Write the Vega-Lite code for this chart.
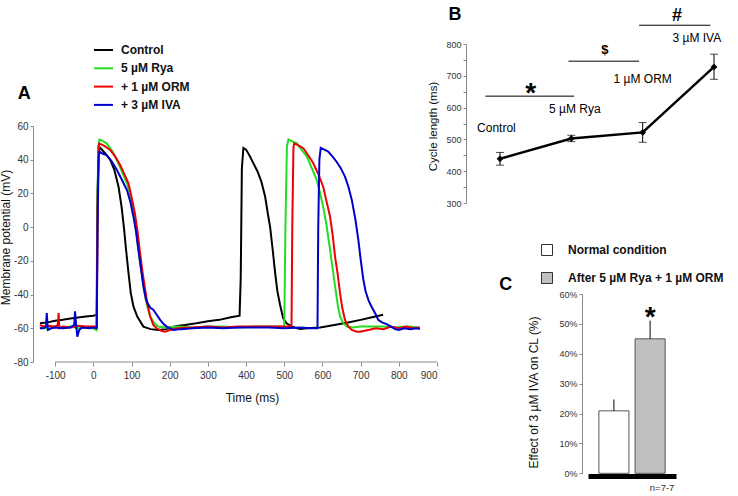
{
  "$schema": "https://vega.github.io/schema/vega-lite/v6.json",
  "width": 738,
  "height": 496,
  "autosize": "none",
  "padding": 0,
  "background": "white",
  "config": {
    "view": {"stroke": null},
    "font": "Liberation Sans",
    "axis": {"grid": false, "domainColor": "#8a8a8a", "tickColor": "#8a8a8a", "labelColor": "#333333", "titleColor": "#111111", "titleFontWeight": "normal", "labelFont": "Liberation Sans", "titleFont": "Liberation Sans"},
    "legend": {"padding": 0, "labelFont": "Liberation Sans", "labelColor": "#111111"}
  },
  "datasets": {
    "one": [{}],
    "traces": [
      {"s":"Control","t":-140,"v":-57},{"s":"Control","t":-120,"v":-56.5},{"s":"Control","t":-100,"v":-55.5},{"s":"Control","t":-80,"v":-55},{"s":"Control","t":-60,"v":-54.2},{"s":"Control","t":-40,"v":-53.6},{"s":"Control","t":-20,"v":-53},{"s":"Control","t":0,"v":-52.5},{"s":"Control","t":9,"v":-52},{"s":"Control","t":11,"v":20},{"s":"Control","t":14,"v":45},{"s":"Control","t":18,"v":47},{"s":"Control","t":30,"v":44},{"s":"Control","t":44,"v":40},{"s":"Control","t":55,"v":34},{"s":"Control","t":66,"v":24},{"s":"Control","t":74,"v":12},{"s":"Control","t":80,"v":0},{"s":"Control","t":86,"v":-14},{"s":"Control","t":92,"v":-27},{"s":"Control","t":98,"v":-39},{"s":"Control","t":105,"v":-47},{"s":"Control","t":115,"v":-53},{"s":"Control","t":131,"v":-59},{"s":"Control","t":150,"v":-60.5},{"s":"Control","t":170,"v":-61},{"s":"Control","t":190,"v":-60.5},{"s":"Control","t":218,"v":-58.6},{"s":"Control","t":240,"v":-58},{"s":"Control","t":270,"v":-57},{"s":"Control","t":300,"v":-55.8},{"s":"Control","t":330,"v":-55},{"s":"Control","t":360,"v":-53.5},{"s":"Control","t":383,"v":-52.5},{"s":"Control","t":386,"v":-30},{"s":"Control","t":389,"v":35},{"s":"Control","t":393,"v":47},{"s":"Control","t":400,"v":46},{"s":"Control","t":410,"v":42},{"s":"Control","t":419,"v":38},{"s":"Control","t":430,"v":33},{"s":"Control","t":440,"v":27},{"s":"Control","t":450,"v":18},{"s":"Control","t":457,"v":8},{"s":"Control","t":463,"v":0},{"s":"Control","t":470,"v":-14},{"s":"Control","t":476,"v":-27},{"s":"Control","t":482,"v":-38},{"s":"Control","t":489,"v":-46},{"s":"Control","t":497,"v":-54},{"s":"Control","t":506,"v":-57},{"s":"Control","t":520,"v":-59},{"s":"Control","t":541,"v":-60.4},{"s":"Control","t":560,"v":-60},{"s":"Control","t":594,"v":-59.5},{"s":"Control","t":620,"v":-58.5},{"s":"Control","t":664,"v":-56.7},{"s":"Control","t":700,"v":-55},{"s":"Control","t":730,"v":-53.5},{"s":"Control","t":759,"v":-52},
      {"s":"5 µM Rya","t":-140,"v":-60},{"s":"5 µM Rya","t":-130,"v":-59},{"s":"5 µM Rya","t":-120,"v":-60.5},{"s":"5 µM Rya","t":-100,"v":-59},{"s":"5 µM Rya","t":-80,"v":-60},{"s":"5 µM Rya","t":-60,"v":-59},{"s":"5 µM Rya","t":-40,"v":-60},{"s":"5 µM Rya","t":-20,"v":-59.5},{"s":"5 µM Rya","t":0,"v":-60},{"s":"5 µM Rya","t":8,"v":-61},{"s":"5 µM Rya","t":10,"v":0},{"s":"5 µM Rya","t":13,"v":48},{"s":"5 µM Rya","t":16,"v":52},{"s":"5 µM Rya","t":25,"v":51},{"s":"5 µM Rya","t":35,"v":49.7},{"s":"5 µM Rya","t":50,"v":45},{"s":"5 µM Rya","t":61,"v":40},{"s":"5 µM Rya","t":75,"v":33},{"s":"5 µM Rya","t":88,"v":26},{"s":"5 µM Rya","t":97,"v":19},{"s":"5 µM Rya","t":105,"v":10},{"s":"5 µM Rya","t":112,"v":-2},{"s":"5 µM Rya","t":118,"v":-13.5},{"s":"5 µM Rya","t":125,"v":-25},{"s":"5 µM Rya","t":131,"v":-35},{"s":"5 µM Rya","t":140,"v":-46},{"s":"5 µM Rya","t":149,"v":-53},{"s":"5 µM Rya","t":160,"v":-57},{"s":"5 µM Rya","t":170,"v":-59},{"s":"5 µM Rya","t":190,"v":-59.5},{"s":"5 µM Rya","t":220,"v":-59},{"s":"5 µM Rya","t":260,"v":-59.5},{"s":"5 µM Rya","t":300,"v":-59},{"s":"5 µM Rya","t":340,"v":-59},{"s":"5 µM Rya","t":380,"v":-59.5},{"s":"5 µM Rya","t":420,"v":-59},{"s":"5 µM Rya","t":460,"v":-59},{"s":"5 µM Rya","t":500,"v":-59},{"s":"5 µM Rya","t":503,"v":0},{"s":"5 µM Rya","t":507,"v":48},{"s":"5 µM Rya","t":511,"v":52},{"s":"5 µM Rya","t":520,"v":51},{"s":"5 µM Rya","t":533,"v":49.7},{"s":"5 µM Rya","t":545,"v":46},{"s":"5 µM Rya","t":559,"v":42},{"s":"5 µM Rya","t":572,"v":35},{"s":"5 µM Rya","t":585,"v":28},{"s":"5 µM Rya","t":594,"v":20},{"s":"5 µM Rya","t":602,"v":12},{"s":"5 µM Rya","t":610,"v":2},{"s":"5 µM Rya","t":620,"v":-13.5},{"s":"5 µM Rya","t":627,"v":-25},{"s":"5 µM Rya","t":633,"v":-35},{"s":"5 µM Rya","t":640,"v":-46},{"s":"5 µM Rya","t":646,"v":-53},{"s":"5 µM Rya","t":655,"v":-57},{"s":"5 µM Rya","t":664,"v":-59},{"s":"5 µM Rya","t":680,"v":-59.5},{"s":"5 µM Rya","t":700,"v":-59},{"s":"5 µM Rya","t":730,"v":-59},{"s":"5 µM Rya","t":760,"v":-59},{"s":"5 µM Rya","t":790,"v":-59.5},{"s":"5 µM Rya","t":820,"v":-59},{"s":"5 µM Rya","t":855,"v":-59.5},
      {"s":"+ 1 µM ORM","t":-140,"v":-58},{"s":"+ 1 µM ORM","t":-130,"v":-59},{"s":"+ 1 µM ORM","t":-120,"v":-58.5},{"s":"+ 1 µM ORM","t":-100,"v":-59},{"s":"+ 1 µM ORM","t":-93,"v":-58},{"s":"+ 1 µM ORM","t":-91,"v":-51},{"s":"+ 1 µM ORM","t":-89,"v":-60},{"s":"+ 1 µM ORM","t":-80,"v":-59},{"s":"+ 1 µM ORM","t":-60,"v":-59.5},{"s":"+ 1 µM ORM","t":-40,"v":-58.5},{"s":"+ 1 µM ORM","t":-20,"v":-59},{"s":"+ 1 µM ORM","t":0,"v":-59},{"s":"+ 1 µM ORM","t":9,"v":-59},{"s":"+ 1 µM ORM","t":11,"v":10},{"s":"+ 1 µM ORM","t":14,"v":48},{"s":"+ 1 µM ORM","t":16,"v":49.7},{"s":"+ 1 µM ORM","t":30,"v":48},{"s":"+ 1 µM ORM","t":44,"v":45.8},{"s":"+ 1 µM ORM","t":57,"v":42},{"s":"+ 1 µM ORM","t":70,"v":37},{"s":"+ 1 µM ORM","t":82,"v":31},{"s":"+ 1 µM ORM","t":92,"v":26},{"s":"+ 1 µM ORM","t":100,"v":18},{"s":"+ 1 µM ORM","t":109,"v":8},{"s":"+ 1 µM ORM","t":116,"v":-3},{"s":"+ 1 µM ORM","t":122.5,"v":-15.5},{"s":"+ 1 µM ORM","t":129,"v":-27},{"s":"+ 1 µM ORM","t":135.6,"v":-37},{"s":"+ 1 µM ORM","t":142,"v":-46},{"s":"+ 1 µM ORM","t":149,"v":-53},{"s":"+ 1 µM ORM","t":157,"v":-58},{"s":"+ 1 µM ORM","t":166,"v":-60},{"s":"+ 1 µM ORM","t":178,"v":-61.5},{"s":"+ 1 µM ORM","t":188,"v":-62},{"s":"+ 1 µM ORM","t":200,"v":-61},{"s":"+ 1 µM ORM","t":220,"v":-60},{"s":"+ 1 µM ORM","t":260,"v":-59.5},{"s":"+ 1 µM ORM","t":300,"v":-59},{"s":"+ 1 µM ORM","t":340,"v":-59.5},{"s":"+ 1 µM ORM","t":380,"v":-59},{"s":"+ 1 µM ORM","t":420,"v":-59},{"s":"+ 1 µM ORM","t":460,"v":-59},{"s":"+ 1 µM ORM","t":500,"v":-59},{"s":"+ 1 µM ORM","t":519,"v":-59},{"s":"+ 1 µM ORM","t":521,"v":0},{"s":"+ 1 µM ORM","t":524,"v":47},{"s":"+ 1 µM ORM","t":526,"v":49.7},{"s":"+ 1 µM ORM","t":537,"v":48.5},{"s":"+ 1 µM ORM","t":550,"v":46.8},{"s":"+ 1 µM ORM","t":563,"v":42.5},{"s":"+ 1 µM ORM","t":576,"v":37.9},{"s":"+ 1 µM ORM","t":590,"v":31},{"s":"+ 1 µM ORM","t":602,"v":24},{"s":"+ 1 µM ORM","t":611,"v":15},{"s":"+ 1 µM ORM","t":620,"v":6.2},{"s":"+ 1 µM ORM","t":627,"v":-5},{"s":"+ 1 µM ORM","t":633,"v":-17.5},{"s":"+ 1 µM ORM","t":640,"v":-28},{"s":"+ 1 µM ORM","t":646,"v":-39},{"s":"+ 1 µM ORM","t":652,"v":-48},{"s":"+ 1 µM ORM","t":659,"v":-55},{"s":"+ 1 µM ORM","t":668,"v":-59},{"s":"+ 1 µM ORM","t":677,"v":-61},{"s":"+ 1 µM ORM","t":690,"v":-62},{"s":"+ 1 µM ORM","t":698,"v":-62},{"s":"+ 1 µM ORM","t":720,"v":-61},{"s":"+ 1 µM ORM","t":740,"v":-60},{"s":"+ 1 µM ORM","t":760,"v":-60.5},{"s":"+ 1 µM ORM","t":780,"v":-59},{"s":"+ 1 µM ORM","t":800,"v":-60},{"s":"+ 1 µM ORM","t":820,"v":-59},{"s":"+ 1 µM ORM","t":840,"v":-60},{"s":"+ 1 µM ORM","t":855,"v":-59.5},
      {"s":"+ 3 µM IVA","t":-140,"v":-60},{"s":"+ 3 µM IVA","t":-130,"v":-60},{"s":"+ 3 µM IVA","t":-124,"v":-59},{"s":"+ 3 µM IVA","t":-122,"v":-51},{"s":"+ 3 µM IVA","t":-119,"v":-61},{"s":"+ 3 µM IVA","t":-110,"v":-60},{"s":"+ 3 µM IVA","t":-100,"v":-59.5},{"s":"+ 3 µM IVA","t":-80,"v":-60},{"s":"+ 3 µM IVA","t":-60,"v":-59.5},{"s":"+ 3 µM IVA","t":-50,"v":-58},{"s":"+ 3 µM IVA","t":-48,"v":-50},{"s":"+ 3 µM IVA","t":-45,"v":-58},{"s":"+ 3 µM IVA","t":-42,"v":-65},{"s":"+ 3 µM IVA","t":-37,"v":-61},{"s":"+ 3 µM IVA","t":-30,"v":-59.5},{"s":"+ 3 µM IVA","t":-10,"v":-60},{"s":"+ 3 µM IVA","t":0,"v":-59.5},{"s":"+ 3 µM IVA","t":9,"v":-60},{"s":"+ 3 µM IVA","t":11,"v":0},{"s":"+ 3 µM IVA","t":14,"v":42},{"s":"+ 3 µM IVA","t":16,"v":44.8},{"s":"+ 3 µM IVA","t":25,"v":43.5},{"s":"+ 3 µM IVA","t":35,"v":42.8},{"s":"+ 3 µM IVA","t":48,"v":39},{"s":"+ 3 µM IVA","t":61.5,"v":34},{"s":"+ 3 µM IVA","t":75,"v":28},{"s":"+ 3 µM IVA","t":88,"v":22},{"s":"+ 3 µM IVA","t":97,"v":15},{"s":"+ 3 µM IVA","t":105,"v":6.2},{"s":"+ 3 µM IVA","t":112,"v":-3},{"s":"+ 3 µM IVA","t":118,"v":-13.5},{"s":"+ 3 µM IVA","t":125,"v":-25},{"s":"+ 3 µM IVA","t":131,"v":-35},{"s":"+ 3 µM IVA","t":138,"v":-43},{"s":"+ 3 µM IVA","t":144,"v":-46},{"s":"+ 3 µM IVA","t":150,"v":-48},{"s":"+ 3 µM IVA","t":157,"v":-49},{"s":"+ 3 µM IVA","t":166,"v":-52},{"s":"+ 3 µM IVA","t":175,"v":-55},{"s":"+ 3 µM IVA","t":184,"v":-57.5},{"s":"+ 3 µM IVA","t":192,"v":-59},{"s":"+ 3 µM IVA","t":210,"v":-61},{"s":"+ 3 µM IVA","t":230,"v":-60.5},{"s":"+ 3 µM IVA","t":260,"v":-60},{"s":"+ 3 µM IVA","t":300,"v":-59.5},{"s":"+ 3 µM IVA","t":340,"v":-60},{"s":"+ 3 µM IVA","t":380,"v":-59.5},{"s":"+ 3 µM IVA","t":420,"v":-59.5},{"s":"+ 3 µM IVA","t":460,"v":-59.5},{"s":"+ 3 µM IVA","t":500,"v":-60},{"s":"+ 3 µM IVA","t":540,"v":-59.5},{"s":"+ 3 µM IVA","t":570,"v":-60},{"s":"+ 3 µM IVA","t":587,"v":-60},{"s":"+ 3 µM IVA","t":589,"v":0},{"s":"+ 3 µM IVA","t":592,"v":40},{"s":"+ 3 µM IVA","t":595.5,"v":47.1},{"s":"+ 3 µM IVA","t":605,"v":46},{"s":"+ 3 µM IVA","t":615,"v":44.8},{"s":"+ 3 µM IVA","t":626,"v":42},{"s":"+ 3 µM IVA","t":637,"v":38.8},{"s":"+ 3 µM IVA","t":648,"v":35},{"s":"+ 3 µM IVA","t":659,"v":30},{"s":"+ 3 µM IVA","t":668,"v":24},{"s":"+ 3 µM IVA","t":677,"v":16},{"s":"+ 3 µM IVA","t":686,"v":5},{"s":"+ 3 µM IVA","t":694,"v":-7.6},{"s":"+ 3 µM IVA","t":700,"v":-19},{"s":"+ 3 µM IVA","t":707,"v":-31},{"s":"+ 3 µM IVA","t":713,"v":-38},{"s":"+ 3 µM IVA","t":720,"v":-43},{"s":"+ 3 µM IVA","t":727,"v":-46.5},{"s":"+ 3 µM IVA","t":733,"v":-49},{"s":"+ 3 µM IVA","t":740,"v":-52},{"s":"+ 3 µM IVA","t":746,"v":-55},{"s":"+ 3 µM IVA","t":756,"v":-56.5},{"s":"+ 3 µM IVA","t":768,"v":-57.5},{"s":"+ 3 µM IVA","t":780,"v":-59},{"s":"+ 3 µM IVA","t":790,"v":-60.4},{"s":"+ 3 µM IVA","t":800,"v":-61},{"s":"+ 3 µM IVA","t":815,"v":-60},{"s":"+ 3 µM IVA","t":830,"v":-60.5},{"s":"+ 3 µM IVA","t":845,"v":-60},{"s":"+ 3 µM IVA","t":855,"v":-60.5}
    ],
    "cycle": [
      {"step": 1, "cond": "Control", "mean": 439, "lo": 419, "hi": 459},
      {"step": 2, "cond": "5 µM Rya", "mean": 503, "lo": 493, "hi": 513},
      {"step": 3, "cond": "1 µM ORM", "mean": 522, "lo": 491, "hi": 553},
      {"step": 4, "cond": "3 µM IVA", "mean": 728, "lo": 689, "hi": 768}
    ],
    "brackets": [
      {"from": 0.795, "to": 2.04, "y": 636},
      {"from": 1.96, "to": 2.95, "y": 746},
      {"from": 2.95, "to": 3.95, "y": 859}
    ],
    "effect": [
      {"cond": "Normal condition", "mean": 0.209, "hi": 0.247},
      {"cond": "After 5 µM Rya + 1 µM ORM", "mean": 0.45, "hi": 0.511}
    ]
  },
  "layer": [
    {
      "layer": [
        {
          "data": {"name": "traces"},
          "mark": {"type": "line", "strokeWidth": 2, "clip": false},
          "encoding": {
            "x": {"field": "t", "type": "quantitative", "scale": {"domain": [-158, 900], "range": [33, 437], "nice": false, "zero": false},
                  "axis": {"orient": "bottom", "offset": -134, "values": [-100,0,100,200,300,400,500,600,700,800,900], "labelExpr": "'' + datum.value", "domain": false, "tickSize": 4, "labelFontSize": 10, "labelPadding": 4, "title": "Time (ms)", "titleFontSize": 12, "titleX": 252, "titleY": 39, "titleBaseline": "alphabetic"}},
            "y": {"field": "v", "type": "quantitative", "scale": {"domain": [-80, 60], "range": [362, 126], "nice": false, "zero": false},
                  "axis": {"orient": "left", "offset": -33, "values": [-80,-60,-40,-20,0,20,40,60], "labelExpr": "'' + datum.value", "tickSize": 3, "labelFontSize": 10, "labelPadding": 2, "title": "Membrane potential (mV)", "titleFontSize": 12, "titleX": -21, "titleY": 237}},
            "color": {"field": "s", "type": "nominal",
                      "scale": {"domain": ["Control", "5 µM Rya", "+ 1 µM ORM", "+ 3 µM IVA"], "range": ["#000000", "#22dd22", "#ee0000", "#0000cc"]},
                      "legend": {"orient": "none", "legendX": 93, "legendY": 39.5, "title": null, "symbolType": "stroke", "symbolSize": 361, "symbolStrokeWidth": 2, "labelFontSize": 12, "labelFontWeight": "bold", "labelOffset": 7, "rowPadding": 1.3}},
            "detail": {"field": "s"}
          }
        },
        {
          "data": {"name": "one"},
          "mark": {"type": "rule", "color": "#8a8a8a", "strokeWidth": 1},
          "encoding": {"x": {"datum": -100}, "x2": {"datum": 900}, "y": {"datum": -80}}
        },
        {
          "data": {"name": "one"},
          "mark": {"type": "text", "fontSize": 18, "fontWeight": "bold", "align": "center", "baseline": "alphabetic", "color": "#000000"},
          "encoding": {"x": {"datum": -181}, "y": {"datum": 75.8}, "text": {"value": "A"}}
        }
      ]
    },
    {
      "layer": [
        {
          "data": {"name": "cycle"},
          "mark": {"type": "line", "color": "#000000", "strokeWidth": 2.5, "clip": false},
          "encoding": {
            "x": {"field": "step", "type": "quantitative", "scale": {"domain": [1, 4], "range": [500, 714], "nice": false, "zero": false}, "axis": null},
            "y": {"field": "mean", "type": "quantitative", "scale": {"domain": [300, 800], "range": [203, 44], "nice": false, "zero": false},
                  "axis": {"orient": "left", "offset": -466, "values": [300,350,400,450,500,550,600,650,700,750,800], "labelExpr": "datum.value % 100 === 0 ? datum.label : ''", "tickSize": 3, "labelFontSize": 9, "labelPadding": 2, "title": "Cycle length (ms)", "titleFontSize": 11.5, "titleX": -28, "titleY": 126}}
          }
        },
        {
          "data": {"name": "cycle"},
          "mark": {"type": "rule", "color": "#000000", "strokeWidth": 1},
          "encoding": {"x": {"field": "step", "type": "quantitative"}, "y": {"field": "lo", "type": "quantitative"}, "y2": {"field": "hi"}}
        },
        {
          "data": {"name": "cycle"},
          "mark": {"type": "tick", "color": "#000000", "orient": "horizontal", "size": 8, "thickness": 1},
          "encoding": {"x": {"field": "step", "type": "quantitative"}, "y": {"field": "lo", "type": "quantitative"}}
        },
        {
          "data": {"name": "cycle"},
          "mark": {"type": "tick", "color": "#000000", "orient": "horizontal", "size": 8, "thickness": 1},
          "encoding": {"x": {"field": "step", "type": "quantitative"}, "y": {"field": "hi", "type": "quantitative"}}
        },
        {
          "data": {"name": "cycle"},
          "mark": {"type": "point", "shape": "diamond", "filled": true, "size": 45, "color": "#000000", "opacity": 1},
          "encoding": {"x": {"field": "step", "type": "quantitative"}, "y": {"field": "mean", "type": "quantitative"}}
        },
        {
          "data": {"name": "brackets"},
          "mark": {"type": "rule", "color": "#000000", "strokeWidth": 1},
          "encoding": {"x": {"field": "from", "type": "quantitative"}, "x2": {"field": "to"}, "y": {"field": "y", "type": "quantitative"}}
        },
        {
          "data": {"name": "one"},
          "mark": {"type": "text", "fontSize": 12, "align": "center", "baseline": "alphabetic", "color": "#000000"},
          "encoding": {"x": {"datum": 0.95}, "y": {"datum": 524}, "text": {"value": "Control"}}
        },
        {
          "data": {"name": "one"},
          "mark": {"type": "text", "fontSize": 12, "align": "center", "baseline": "alphabetic", "color": "#000000"},
          "encoding": {"x": {"datum": 2.05}, "y": {"datum": 582}, "text": {"value": "5 µM Rya"}}
        },
        {
          "data": {"name": "one"},
          "mark": {"type": "text", "fontSize": 12, "align": "center", "baseline": "alphabetic", "color": "#000000"},
          "encoding": {"x": {"datum": 3.0}, "y": {"datum": 676}, "text": {"value": "1 µM ORM"}}
        },
        {
          "data": {"name": "one"},
          "mark": {"type": "text", "fontSize": 12, "align": "center", "baseline": "alphabetic", "color": "#000000"},
          "encoding": {"x": {"datum": 3.76}, "y": {"datum": 807}, "text": {"value": "3 µM IVA"}}
        },
        {
          "data": {"name": "one"},
          "mark": {"type": "text", "fontSize": 28, "fontWeight": "bold", "align": "center", "baseline": "alphabetic", "color": "#000000"},
          "encoding": {"x": {"datum": 1.43}, "y": {"datum": 618}, "text": {"value": "*"}}
        },
        {
          "data": {"name": "one"},
          "mark": {"type": "text", "fontSize": 13, "fontWeight": "bold", "align": "center", "baseline": "alphabetic", "color": "#000000"},
          "encoding": {"x": {"datum": 2.47}, "y": {"datum": 767}, "text": {"value": "$"}}
        },
        {
          "data": {"name": "one"},
          "mark": {"type": "text", "fontSize": 18, "fontWeight": "bold", "align": "center", "baseline": "alphabetic", "color": "#000000"},
          "encoding": {"x": {"datum": 3.48}, "y": {"datum": 873}, "text": {"value": "#"}}
        },
        {
          "data": {"name": "one"},
          "mark": {"type": "text", "fontSize": 18, "fontWeight": "bold", "align": "center", "baseline": "alphabetic", "color": "#000000"},
          "encoding": {"x": {"datum": 0.37}, "y": {"datum": 877}, "text": {"value": "B"}}
        },
        {
          "data": {"name": "one"},
          "mark": {"type": "text", "fontSize": 18, "fontWeight": "bold", "align": "center", "baseline": "alphabetic", "color": "#000000"},
          "encoding": {"x": {"datum": 1.08}, "y": {"datum": 26}, "text": {"value": "C"}}
        }
      ]
    },
    {
      "layer": [
        {
          "data": {"name": "effect"},
          "mark": {"type": "bar", "stroke": "#555555", "strokeWidth": 1},
          "encoding": {
            "x": {"field": "cond", "type": "nominal", "scale": {"type": "band", "domain": ["Normal condition", "After 5 µM Rya + 1 µM ORM"], "range": [588, 676], "paddingInner": 0.17, "paddingOuter": 0.3},
                  "axis": {"orient": "bottom", "offset": -20, "domainWidth": 5, "domainColor": "#000000", "labels": false, "ticks": false, "title": null}},
            "y": {"field": "mean", "type": "quantitative", "scale": {"domain": [0, 0.6], "range": [473.3, 294], "nice": false, "zero": false},
                  "axis": {"orient": "left", "offset": -582, "values": [0,0.1,0.2,0.3,0.4,0.5,0.6], "format": ".0%", "tickSize": 3, "labelFontSize": 9, "labelPadding": 2, "title": "Effect of 3 µM IVA on CL (%)", "titleFontSize": 12, "titleX": -42, "titleY": 392}},
            "fill": {"field": "cond", "type": "nominal",
                     "scale": {"domain": ["Normal condition", "After 5 µM Rya + 1 µM ORM"], "range": ["#ffffff", "#c0c0c0"]},
                     "legend": {"orient": "none", "legendX": 541, "legendY": 244, "title": null, "symbolType": "square", "symbolSize": 121, "symbolStrokeColor": "#333333", "symbolStrokeWidth": 1, "labelFontSize": 12, "labelFontWeight": "bold", "labelOffset": 15, "rowPadding": 12}}
          }
        },
        {
          "data": {"name": "effect"},
          "mark": {"type": "rule", "color": "#000000", "strokeWidth": 1},
          "encoding": {"x": {"field": "cond", "type": "nominal"}, "y": {"field": "mean", "type": "quantitative"}, "y2": {"field": "hi"}}
        },
        {
          "data": {"name": "one"},
          "mark": {"type": "text", "fontSize": 28, "fontWeight": "bold", "align": "center", "baseline": "alphabetic", "color": "#000000"},
          "encoding": {"x": {"datum": "After 5 µM Rya + 1 µM ORM", "type": "nominal"}, "y": {"datum": 0.493}, "text": {"value": "*"}}
        },
        {
          "data": {"name": "one"},
          "mark": {"type": "text", "fontSize": 9.5, "align": "center", "baseline": "alphabetic", "color": "#333333", "dx": 12},
          "encoding": {"x": {"datum": "After 5 µM Rya + 1 µM ORM", "type": "nominal"}, "y": {"datum": -0.058}, "text": {"value": "n=7-7"}}
        }
      ]
    }
  ],
  "resolve": {"scale": {"x": "independent", "y": "independent", "color": "independent", "fill": "independent"}, "axis": {"x": "independent", "y": "independent"}, "legend": {"color": "independent", "fill": "independent"}}
}
